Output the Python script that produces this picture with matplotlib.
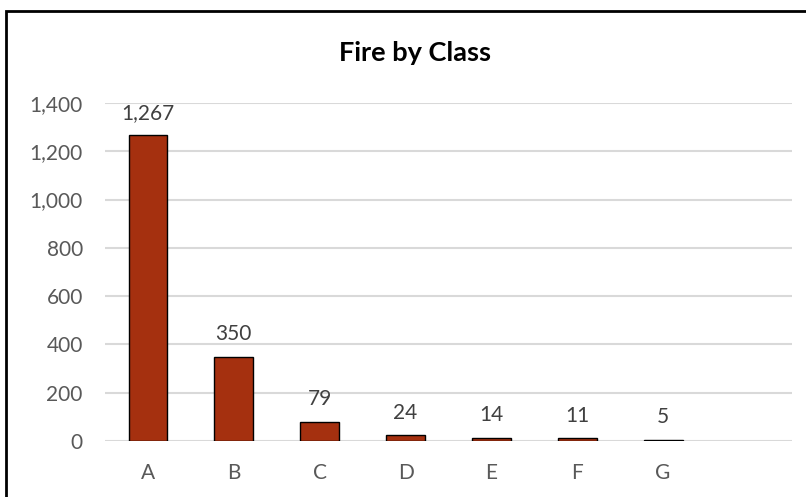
import matplotlib
matplotlib.use('Agg')
import matplotlib.pyplot as plt
from matplotlib.patches import Rectangle
import numpy as np

plt.rcParams['font.family'] = ['Lato', 'DejaVu Sans']

# data
classes = ['A', 'B', 'C', 'D', 'E', 'F', 'G', '']
counts = [1267, 350, 79, 24, 14, 11, 5, np.nan]
y_ticks = [0, 200, 400, 600, 800, 1000, 1200, 1400]

W, H, DPI = 806, 497, 100
fig = plt.figure(figsize=(W / DPI, H / DPI), dpi=DPI)
ax = fig.add_axes([105 / W, 1 - 441 / H, (792 - 105) / W, (441 - 103) / H])

x = np.arange(len(classes))
bars = ax.bar(x, counts, width=0.45, color='#A5300F', edgecolor='black', linewidth=1, zorder=3)

for xi, v in zip(x, counts):
    if np.isnan(v):
        continue
    ax.annotate(f'{int(v):,}', (xi, v), xytext=(0, 9), textcoords='offset points',
                ha='center', va='bottom', fontsize=15, color='#404040')

ax.set_xlim(-0.5, len(classes) - 0.5)
ax.set_ylim(0, 1400)
ax.set_yticks(y_ticks)
ax.set_yticklabels([f'{t:,}' for t in y_ticks])
ax.set_xticks(x)
ax.set_xticklabels(classes)
ax.tick_params(axis='y', length=0, pad=16, labelsize=15, labelcolor='#595959')
ax.tick_params(axis='x', length=0, pad=16, labelsize=15, labelcolor='#595959')
ax.grid(axis='y', color='#D9D9D9', linewidth=1.5, zorder=0)
for s in ax.spines.values():
    s.set_visible(False)

fig.text(415 / W, 1 - 53 / H, 'Fire by Class', ha='center', va='center',
         fontsize=19.5, fontweight='bold', color='black')

# chart border (cropped at right and bottom)
fig.patches.append(Rectangle((6 / W, -0.05), 1.1, 1 - 11 / H + 0.05, transform=fig.transFigure,
                             fill=False, edgecolor='black', linewidth=2))

fig.savefig('out.png', dpi=DPI)
